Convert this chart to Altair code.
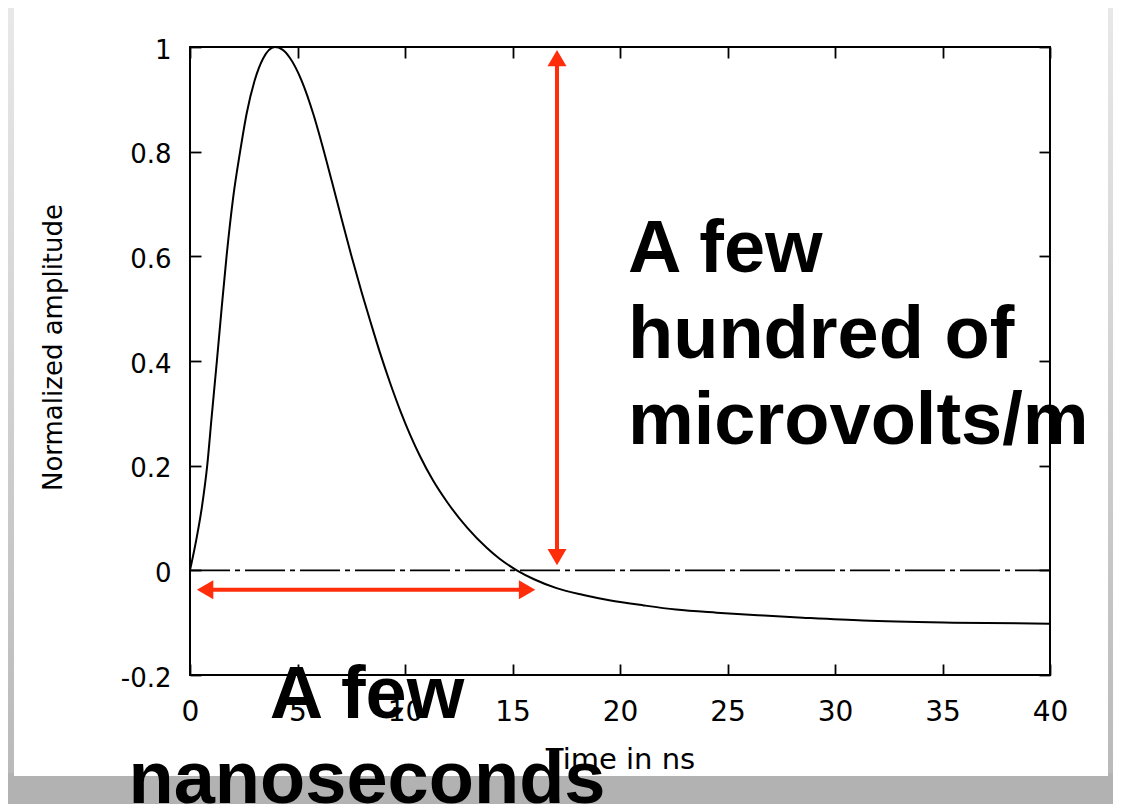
import altair as alt
import pandas as pd

# ---- data ----
time_ns = [0, 0.3, 0.55, 0.8, 1.0, 1.25, 1.47, 1.7, 2.0, 2.33,
           2.64, 3.0, 3.4, 3.95, 4.3, 4.65, 5.2, 5.75, 6.1, 6.6,
           7.05, 7.5, 8.0, 8.4, 8.85, 9.3, 9.8, 10.25, 10.7, 11.3,
           11.95, 12.9, 13.8, 14.4, 15.2, 16.0, 17.05, 18.3, 19.5, 21.1,
           22.6, 24.5, 26.7, 28.5, 31.3, 35.5, 40]
amplitude = [0, 0.06, 0.12, 0.2, 0.29, 0.4, 0.5, 0.6, 0.71, 0.8,
             0.874, 0.935, 0.978, 1.0, 0.995, 0.979, 0.935, 0.87, 0.82, 0.743,
             0.672, 0.602, 0.529, 0.474, 0.414, 0.359, 0.303, 0.258, 0.218, 0.172,
             0.131, 0.081, 0.043, 0.022, 0.0, -0.017, -0.034, -0.047, -0.057, -0.067,
             -0.075, -0.081, -0.0865, -0.0905, -0.096, -0.1, -0.102]

x_ticks = [0, 5, 10, 15, 20, 25, 30, 35, 40]
y_ticks = [-0.2, 0, 0.2, 0.4, 0.6, 0.8, 1]

zero_t = [0, 40]
zero_v = [0, 0]

varrow_t = [17.07]
varrow_top = [0.994]
varrow_bottom = [0.01]

harrow_v = [-0.037]
harrow_left = [0.33]
harrow_right = [16.05]

frame_t = [0, 40]
frame_v = [-0.2, 1]

text_amplitude = ["A few", "hundred of", "microvolts/m"]
text_time = ["A few", "nanoseconds"]
x_title = "Time in ns"
y_title = "Normalized amplitude"

# ---- styling ----
RED = "#ff2d0a"
W, H = 860, 628
PAD = {"left": 182, "top": 39, "right": 63, "bottom": 129}
FONT = "DejaVu Sans"

xs = alt.Scale(domain=[0, 40], nice=False, zero=False)
ys = alt.Scale(domain=[-0.2, 1], nice=False, zero=False)

tick_style = dict(tickSize=11, offset=-11, domain=False, grid=False,
                  tickColor="black", tickWidth=1.8, zindex=1)

one = pd.DataFrame({"k": [0]})
curve_df = pd.DataFrame({"t": time_ns, "v": amplitude})
zero_df = pd.DataFrame({"t": zero_t, "v": zero_v})
frame_df = pd.DataFrame({"t0": [frame_t[0]], "t1": [frame_t[1]],
                         "v0": [frame_v[0]], "v1": [frame_v[1]]})
va_df = pd.DataFrame({"t": varrow_t, "top": varrow_top, "bottom": varrow_bottom})
ha_df = pd.DataFrame({"v": harrow_v, "left": harrow_left, "right": harrow_right})

gradient = alt.LinearGradient(
    gradient="linear",
    stops=[alt.GradientStop(offset=0, color="#e8e8e8"),
           alt.GradientStop(offset=0.96, color="#bababa"),
           alt.GradientStop(offset=0.962, color="#b2b2b2"),
           alt.GradientStop(offset=1, color="#b2b2b2")],
    x1=0, x2=0, y1=0, y2=1,
)

bg = alt.Chart(one).mark_rect(color=gradient).encode(
    x=alt.value(-PAD["left"]), x2=alt.value(W + PAD["right"]),
    y=alt.value(-PAD["top"]), y2=alt.value(H + PAD["bottom"]))

panel = alt.Chart(one).mark_rect(color="white").encode(
    x=alt.value(-176), x2=alt.value(918), y=alt.value(-43), y2=alt.value(729))

zero = alt.Chart(zero_df).mark_line(color="black", strokeWidth=1.8,
                                    strokeDash=[40, 5, 5, 5]).encode(
    x=alt.X("t:Q", scale=xs, axis=None),
    y=alt.Y("v:Q", scale=ys, axis=None))

curve = alt.Chart(curve_df).mark_line(color="black", strokeWidth=2,
                                      interpolate="monotone").encode(
    x=alt.X("t:Q", scale=xs, axis=alt.Axis(
        orient="bottom", values=x_ticks, labelFont=FONT, labelFontSize=28,
        labelColor="black", labelPadding=23, labelFlush=False, labelOverlap=False,
        title=x_title, titleFont=FONT, titleFontSize=29, titleFontWeight="normal",
        titleColor="black", titleX=430, titleY=104, titleBaseline="alphabetic",
        titleAlign="center", **tick_style)),
    y=alt.Y("v:Q", scale=ys, axis=alt.Axis(
        orient="left", values=y_ticks, labelExpr="toString(datum.value)",
        labelFont=FONT, labelFontSize=26, labelColor="black", labelPadding=19,
        labelOffset=3, labelFlush=False, labelOverlap=False,
        title=y_title, titleFont=FONT, titleFontSize=26, titleFontWeight="normal",
        titleColor="black", titleX=-140, titleY=300, titleAngle=270,
        titleBaseline="alphabetic", titleAlign="center", **tick_style)),
)

frame = alt.Chart(frame_df).mark_rect(fill="transparent", stroke="black",
                                      strokeWidth=2).encode(
    x=alt.X("t0:Q", scale=xs, axis=alt.Axis(orient="top", values=x_ticks,
                                            labels=False, title=None, **tick_style)),
    x2="t1",
    y=alt.Y("v0:Q", scale=ys, axis=alt.Axis(orient="right", values=y_ticks,
                                            labels=False, title=None, **tick_style)),
    y2="v1")

va_shaft = alt.Chart(va_df).mark_rule(color=RED, strokeWidth=4,
                                      yOffset=12, y2Offset=-12).encode(
    x=alt.X("t:Q", scale=xs, axis=None),
    y=alt.Y("top:Q", scale=ys, axis=None), y2="bottom")
va_top = alt.Chart(va_df).mark_point(shape="triangle-up", filled=True, size=360,
                                     color=RED, opacity=1, yOffset=8).encode(
    x=alt.X("t:Q", scale=xs, axis=None), y=alt.Y("top:Q", scale=ys, axis=None))
va_bottom = alt.Chart(va_df).mark_point(shape="triangle-down", filled=True, size=360,
                                        color=RED, opacity=1, yOffset=-8).encode(
    x=alt.X("t:Q", scale=xs, axis=None), y=alt.Y("bottom:Q", scale=ys, axis=None))

ha_shaft = alt.Chart(ha_df).mark_rule(color=RED, strokeWidth=4,
                                      xOffset=12, x2Offset=-12).encode(
    x=alt.X("left:Q", scale=xs, axis=None), x2="right",
    y=alt.Y("v:Q", scale=ys, axis=None))
ha_left = alt.Chart(ha_df).mark_point(shape="triangle-left", filled=True, size=360,
                                      color=RED, opacity=1, xOffset=8).encode(
    x=alt.X("left:Q", scale=xs, axis=None), y=alt.Y("v:Q", scale=ys, axis=None))
ha_right = alt.Chart(ha_df).mark_point(shape="triangle-right", filled=True, size=360,
                                       color=RED, opacity=1, xOffset=-8).encode(
    x=alt.X("right:Q", scale=xs, axis=None), y=alt.Y("v:Q", scale=ys, axis=None))

txt_amp = alt.Chart(one).mark_text(font="Liberation Sans", fontSize=74,
                                   fontWeight="bold", align="left",
                                   baseline="alphabetic", lineHeight=86,
                                   color="black").encode(
    x=alt.value(438), y=alt.value(224.7), text=alt.value(text_amplitude))

txt_time = alt.Chart(one).mark_text(font="Liberation Sans", fontSize=74,
                                    fontWeight="bold", align="center",
                                    baseline="alphabetic", lineHeight=85,
                                    color="black").encode(
    x=alt.value(177), y=alt.value(670.5), text=alt.value(text_time))

chart = alt.layer(
    bg, panel, zero, curve, frame,
    va_shaft, va_top, va_bottom, ha_shaft, ha_left, ha_right,
    txt_amp, txt_time,
).resolve_axis(x="independent", y="independent").properties(
    width=W, height=H, padding=PAD,
    autosize=alt.AutoSizeParams(type="none"),
    background="#c8c8c8",
).configure_view(strokeWidth=0)

chart.save("out.html", embed_options={"renderer": "svg", "actions": False})
